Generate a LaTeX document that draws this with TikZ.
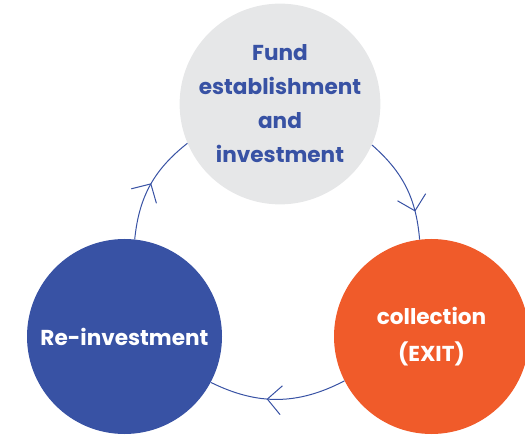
\documentclass[tikz,border=0pt]{standalone}
\usepackage{tikz}
\usepackage{xcolor}
\usepackage{fontspec}
\setmainfont{Poppins}
\usetikzlibrary{arrows.meta,decorations.markings}

\definecolor{fundgray}{RGB}{230,231,232}
\definecolor{cycleblue}{RGB}{56,82,164}
\definecolor{exitorange}{RGB}{240,91,42}

\tikzset{
  stage/.style={circle, minimum size=195pt, inner sep=0pt, align=center,
    font=\bfseries\fontsize{21.6}{34}\selectfont},
  cyc/.style={draw=cycleblue, line width=1pt},
  tipat/.style={postaction={decorate}, decoration={markings,
    mark=at position #1 with {\arrow[cycleblue, line width=1pt]{Straight Barb[length=14pt,width=29pt]}}}}
}

\begin{document}
\begin{tikzpicture}[x=1pt,y=1pt]
            \useasboundingbox (0,0) rectangle (525,434);
            \node[stage, fill=fundgray, text=cycleblue] (A) at (280,330) {Fund\\establishment\\and\\investment};
            \node[stage, fill=exitorange, text=white, font=\bfseries\fontsize{21.6}{37}\selectfont] (B) at (431.5,97.5) {collection\\(EXIT)};
            \node[stage, fill=cycleblue, text=white] (C) at (124.5,97.5) {Re-investment};
            \draw[cyc, tipat=0.74] (A.336) to[bend left=22] (B.97);
            \draw[cyc, tipat=0.58] (B.207) to[bend left=27] (C.332);
            \draw[cyc, tipat=0.52] (C.84) to[bend left=23] (A.203);
        \end{tikzpicture}
\end{document}
